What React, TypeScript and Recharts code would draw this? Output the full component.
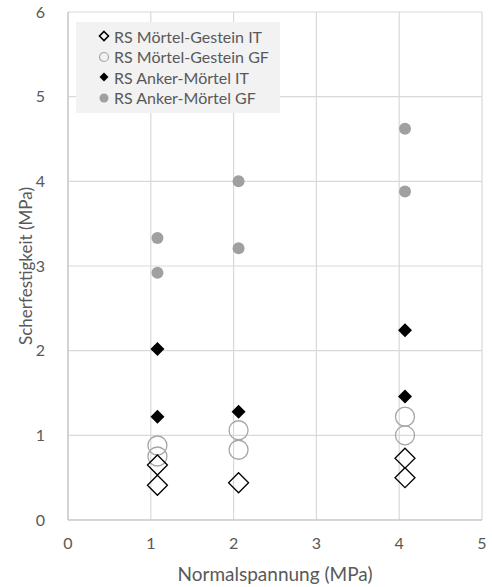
import { CartesianGrid, Scatter, ScatterChart, XAxis, YAxis, Label } from "recharts";

type Pt = { x: number; y: number };

const xTicks = [0, 1, 2, 3, 4, 5];
const yTicks = [0, 1, 2, 3, 4, 5, 6];

// Mörtel-Gestein, IT
const mgItX = [1.08, 1.08, 2.06, 4.07, 4.07];
const mgItY = [0.65, 0.41, 0.44, 0.73, 0.5];
// Mörtel-Gestein, GF
const mgGfX = [1.08, 1.08, 2.06, 2.06, 4.07, 4.07];
const mgGfY = [0.88, 0.75, 1.06, 0.83, 1.22, 1.0];
// Anker-Mörtel, IT
const amItX = [1.08, 1.08, 2.06, 4.07, 4.07];
const amItY = [2.02, 1.22, 1.28, 2.24, 1.46];
// Anker-Mörtel, GF
const amGfX = [1.08, 1.08, 2.06, 2.06, 4.07, 4.07];
const amGfY = [3.33, 2.92, 4.0, 3.21, 4.62, 3.88];

const zip = (xs: number[], ys: number[]): Pt[] => xs.map((x, i) => ({ x, y: ys[i] }));

const FONT = "Lato, 'Open Sans', sans-serif";
const TEXT = "#595959";

function OpenDiamond(props: any) {
  const { cx, cy } = props;
  const r = 10;
  return (
    <path
      d={`M${cx},${cy - r} L${cx + r},${cy} L${cx},${cy + r} L${cx - r},${cy} Z`}
      fill="none"
      stroke="#000"
      strokeWidth={1.3}
    />
  );
}

function FilledDiamond(props: any) {
  const { cx, cy } = props;
  const r = 7;
  return (
    <path
      d={`M${cx},${cy - r} L${cx + r},${cy} L${cx},${cy + r} L${cx - r},${cy} Z`}
      fill="#000"
    />
  );
}

function OpenCircle(props: any) {
  const { cx, cy } = props;
  return <circle cx={cx} cy={cy} r={9.5} fill="none" stroke="#a6a6a6" strokeWidth={1.3} />;
}

function GrayDot(props: any) {
  const { cx, cy } = props;
  return <circle cx={cx} cy={cy} r={6} fill="#a0a0a0" />;
}

const legendItems = [
  { name: "RS Mörtel-Gestein IT", kind: "openDiamond" },
  { name: "RS Mörtel-Gestein GF", kind: "openCircle" },
  { name: "RS Anker-Mörtel IT", kind: "filledDiamond" },
  { name: "RS Anker-Mörtel GF", kind: "grayDot" },
];

function LegendIcon({ kind }: { kind: string }) {
  return (
    <svg width={12} height={12} style={{ marginRight: 4 }}>
      {kind === "openDiamond" && (
        <path d="M6,1.5 L10.5,6 L6,10.5 L1.5,6 Z" fill="none" stroke="#000" strokeWidth={1.6} />
      )}
      {kind === "openCircle" && (
        <circle cx={6} cy={6} r={4.5} fill="none" stroke="#a6a6a6" strokeWidth={1.2} />
      )}
      {kind === "filledDiamond" && <path d="M6,1.5 L10.5,6 L6,10.5 L1.5,6 Z" fill="#000" />}
      {kind === "grayDot" && <circle cx={6} cy={6} r={4.5} fill="#a0a0a0" />}
    </svg>
  );
}

function LegendBox() {
  return (
    <div
      style={{
        position: "absolute",
        left: 76,
        top: 22,
        background: "#f2f2f2",
        width: 204,
        height: 91,
        boxSizing: "border-box",
        padding: "4px 0 0 22px",
        fontFamily: FONT,
        fontSize: 16,
        color: TEXT,
      }}
    >
      {legendItems.map((it) => (
        <div key={it.name} style={{ display: "flex", alignItems: "center", height: 20.5, whiteSpace: "nowrap" }}>
          <LegendIcon kind={it.kind} />
          {it.name}
        </div>
      ))}
    </div>
  );
}

function YTitle(props: any) {
  const { viewBox } = props;
  const cy = viewBox.y + viewBox.height / 2;
  return (
    <text
      x={25}
      y={cy}
      transform={`rotate(-90, 25, ${cy})`}
      textAnchor="middle"
      dominantBaseline="central"
      fill={TEXT}
      fontSize={17}
      fontFamily={FONT}
    >
      Scherfestigkeit (MPa)
    </text>
  );
}

export default function App() {
  return (
    <div style={{ position: "absolute", left: 0, top: 0, width: 492, height: 587, background: "#fff" }}>
      <ScatterChart width={492} height={587} margin={{ top: 12, right: 10, bottom: 0, left: 20 }}>
        <CartesianGrid stroke="#d9d9d9" strokeWidth={1.2} />
        <XAxis
          type="number"
          dataKey="x"
          domain={[0, 5]}
          ticks={xTicks}
          height={67}
          axisLine={{ stroke: "#bfbfbf" }}
          tickLine={false}
          tick={{ fill: TEXT, fontSize: 16, fontFamily: FONT }}
          tickMargin={12}
        >
          <Label
            value="Normalspannung (MPa)"
            position="insideBottom"
            offset={6}
            style={{ fill: TEXT, fontSize: 19, fontFamily: FONT }}
          />
        </XAxis>
        <YAxis
          type="number"
          dataKey="y"
          domain={[0, 6]}
          ticks={yTicks}
          width={48}
          axisLine={{ stroke: "#bfbfbf" }}
          tickLine={false}
          tick={{ fill: TEXT, fontSize: 16, fontFamily: FONT }}
          tickMargin={17}
        >
          <Label content={YTitle} />
        </YAxis>
        <Scatter name="RS Anker-Mörtel GF" data={zip(amGfX, amGfY)} shape={GrayDot} isAnimationActive={false} />
        <Scatter name="RS Anker-Mörtel IT" data={zip(amItX, amItY)} shape={FilledDiamond} isAnimationActive={false} />
        <Scatter name="RS Mörtel-Gestein GF" data={zip(mgGfX, mgGfY)} shape={OpenCircle} isAnimationActive={false} />
        <Scatter name="RS Mörtel-Gestein IT" data={zip(mgItX, mgItY)} shape={OpenDiamond} isAnimationActive={false} />
      </ScatterChart>
      <LegendBox />
    </div>
  );
}
